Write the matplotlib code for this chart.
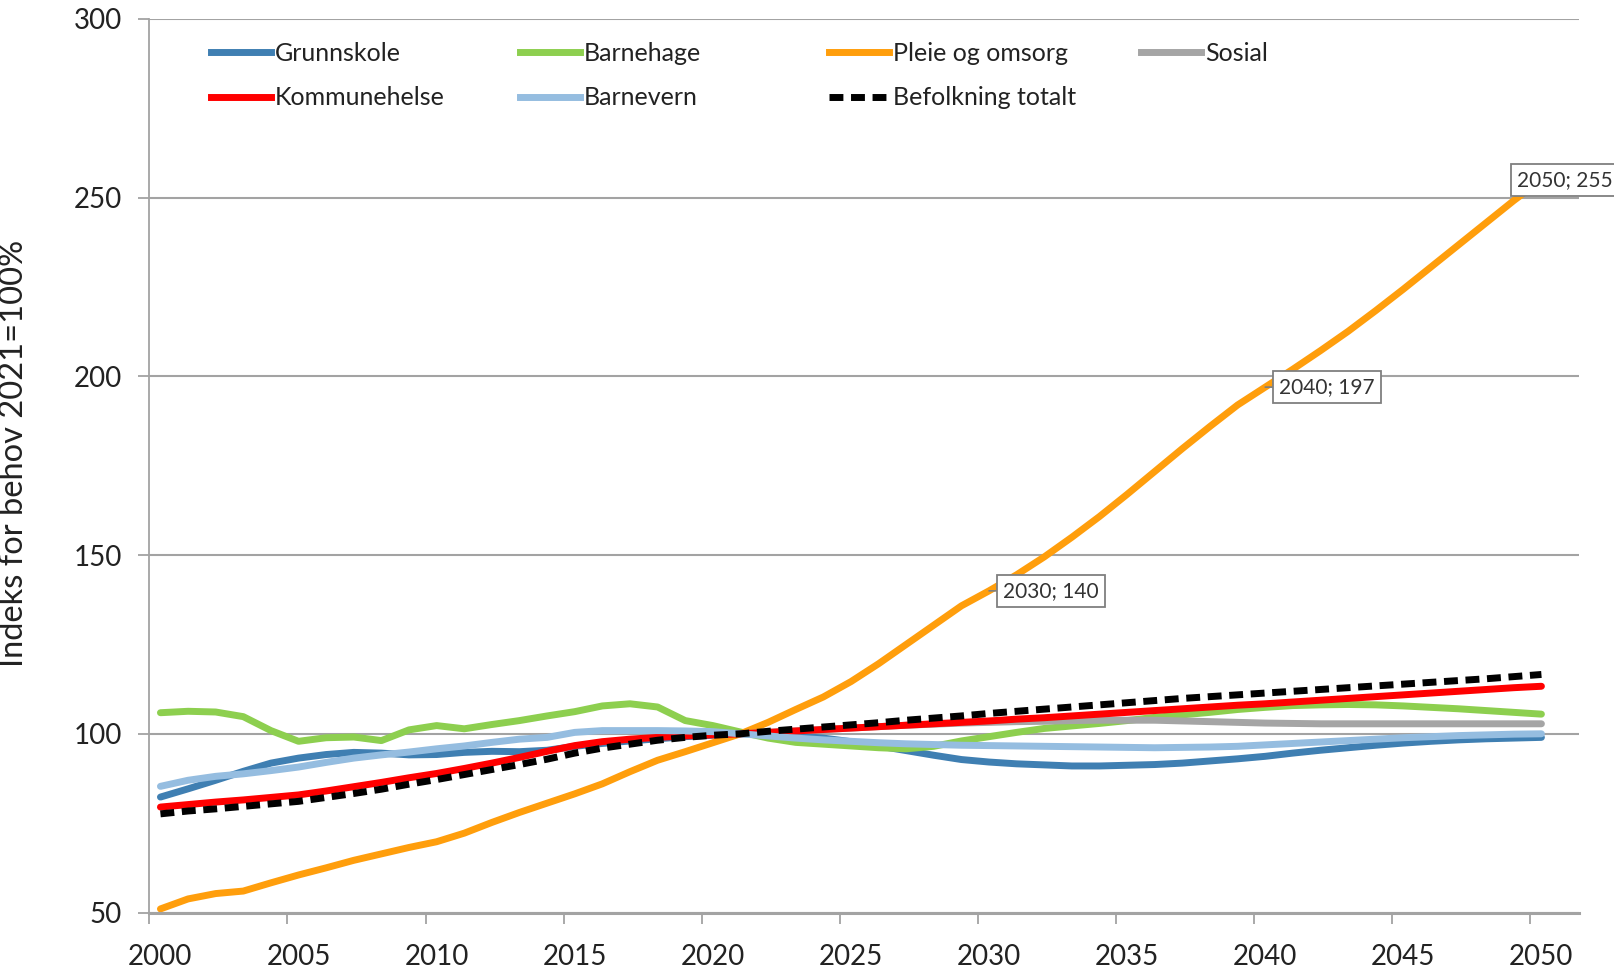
''' Index of demographic needs by sector, 2021 = 100 '''
import numpy as np
import matplotlib
matplotlib.use('Agg')
import matplotlib.pyplot as plt
from matplotlib.lines import Line2D

plt.rcParams['font.family'] = ['Lato', 'DejaVu Sans']

# data (index, 2021 = 100)
years = list(range(2000, 2051))

grunnskole = [82.3, 84.6, 87.0, 89.5, 91.8, 93.2, 94.2, 94.8, 94.6, 94.1,
              94.2, 94.8, 95.1, 95.0, 95.4, 96.5, 97.3, 98.0, 98.6, 99.2,
              99.6, 100.0, 99.8, 99.4, 98.8, 97.8, 96.6, 95.3, 94.0, 92.8,
              92.1, 91.6, 91.3, 91.0, 91.0, 91.2, 91.4, 91.8, 92.4, 93.0,
              93.7, 94.6, 95.4, 96.1, 96.8, 97.4, 97.9, 98.3, 98.6, 98.8, 99.0]

barnehage = [105.9, 106.3, 106.1, 104.8, 100.9, 97.9, 98.9, 99.1, 98.1, 101.1,
             102.3, 101.4, 102.6, 103.7, 105.0, 106.2, 107.8, 108.4, 107.5, 103.7,
             102.3, 100.5, 98.8, 97.6, 97.1, 96.6, 96.1, 95.8, 96.5, 98.0,
             99.2, 100.4, 101.5, 102.2, 102.9, 103.7, 104.6, 105.3, 106.0, 106.8,
             107.4, 107.9, 108.1, 108.2, 108.1, 107.8, 107.4, 107.0, 106.5, 106.0, 105.5]

pleie_omsorg = [51.0, 53.8, 55.3, 56.0, 58.3, 60.5, 62.5, 64.6, 66.4, 68.2,
                69.8, 72.2, 75.2, 78.0, 80.6, 83.2, 86.0, 89.4, 92.6, 95.0,
                97.5, 100.0, 103.2, 106.8, 110.3, 114.6, 119.6, 125.0, 130.4, 135.8,
                140.0, 144.5, 149.5, 155.0, 160.8, 167.0, 173.4, 179.8, 186.0, 192.0,
                197.0, 202.0, 207.2, 212.6, 218.4, 224.4, 230.6, 236.8, 243.0, 249.2, 255.0]

sosial = [np.nan] * 21 + [
          100.0, 100.4, 100.8, 101.2, 101.6, 102.0, 102.4, 102.7, 103.0,
          103.2, 103.4, 103.5, 103.7, 103.8, 103.8, 103.8, 103.6, 103.4, 103.2,
          103.0, 102.9, 102.8, 102.8, 102.8, 102.8, 102.8, 102.8, 102.8, 102.8, 102.8]

kommunehelse = [79.5, 80.2, 80.9, 81.5, 82.2, 82.9, 84.0, 85.2, 86.4, 87.7,
                88.9, 90.3, 91.8, 93.4, 95.1, 96.7, 97.8, 98.5, 99.0, 99.4,
                99.7, 100.0, 100.4, 100.8, 101.2, 101.6, 102.0, 102.4, 102.8, 103.2,
                103.6, 104.1, 104.5, 105.0, 105.5, 106.0, 106.5, 107.0, 107.5, 108.0,
                108.4, 108.9, 109.4, 109.9, 110.4, 110.9, 111.4, 111.9, 112.4, 112.9, 113.3]

barnevern = [85.3, 87.0, 88.1, 88.8, 89.7, 90.7, 92.0, 93.2, 94.1, 94.9,
             95.8, 96.6, 97.6, 98.5, 99.0, 100.4, 100.9, 100.9, 100.9, 100.8,
             100.6, 100.0, 99.4, 98.8, 98.3, 97.9, 97.5, 97.2, 97.0, 96.8,
             96.7, 96.6, 96.5, 96.4, 96.3, 96.2, 96.1, 96.2, 96.3, 96.5,
             96.9, 97.3, 97.7, 98.1, 98.5, 98.9, 99.2, 99.5, 99.7, 99.9, 100.0]

befolkning = [77.6, 78.4, 79.0, 79.7, 80.4, 81.1, 82.2, 83.3, 84.5, 85.9,
              87.2, 88.6, 90.0, 91.4, 92.9, 94.6, 96.0, 97.1, 98.2, 99.0,
              99.6, 100.0, 100.7, 101.3, 101.9, 102.5, 103.1, 103.8, 104.4, 105.0,
              105.7, 106.3, 106.9, 107.5, 108.1, 108.7, 109.3, 109.9, 110.4, 110.9,
              111.4, 111.9, 112.4, 112.9, 113.4, 113.9, 114.4, 114.9, 115.4, 116.0, 116.6]

labels_points = [(2030, 140), (2040, 197), (2050, 255)]

# series in Excel drawing order
series = [
    ('Grunnskole', grunnskole, '#3F7FB2', '-'),
    ('Barnehage', barnehage, '#8DCF4F', '-'),
    ('Pleie og omsorg', pleie_omsorg, '#FF9E0C', '-'),
    ('Sosial', sosial, '#A5A5A5', '-'),
    ('Kommunehelse', kommunehelse, '#FF0000', '-'),
    ('Barnevern', barnevern, '#95BDE0', '-'),
    ('Befolkning totalt', befolkning, '#000000', '--'),
]

fig = plt.figure(figsize=(16.15, 9.69), dpi=100)
ax = fig.add_axes([0.0925, 0.0583, 0.8852, 0.9221])

GRID = '#A3A3A3'
LW = 5.0
DASH = (2.0, 1.1)
lines = {}
for name, vals, color, ls in series:
    if ls == '--':
        ln, = ax.plot(years, vals, color=color, lw=LW, dashes=DASH,
                      dash_capstyle='butt', label=name)
    else:
        ln, = ax.plot(years, vals, color=color, lw=LW, solid_capstyle='round',
                      solid_joinstyle='round', label=name)
    lines[name] = ln

ax.set_xlim(1999.6, 2051.36)
ax.set_ylim(50, 300)

# axes styling
for side in ['top', 'right']:
    ax.spines[side].set_visible(False)
ax.spines['left'].set_color(GRID)
ax.spines['left'].set_linewidth(1.3)
ax.spines['bottom'].set_color(GRID)
ax.spines['bottom'].set_linewidth(2.2)
ax.set_axisbelow(True)

ax.set_yticks(range(50, 301, 50))
ax.yaxis.grid(True, color=GRID, lw=1.5)
ax.tick_params(axis='y', length=8, width=1.3, color=GRID, pad=12,
               labelsize=20, labelcolor='#222222')

ax.set_xticks(range(2000, 2051, 5))
ax.tick_params(axis='x', which='major', length=0, pad=23,
               labelsize=20, labelcolor='#222222')
ax.set_xticks([1999.6 + 5 * k for k in range(11)], minor=True)
ax.tick_params(axis='x', which='minor', length=8, width=1.3, color=GRID)

ax.set_ylabel('Indeks for behov 2021=100%', fontsize=23.5, color='#222222')
ax.yaxis.set_label_coords(-0.084, 0.514)

# data callouts
for (x, y) in labels_points:
    dx = -24 if x == 2050 else 14
    ax.annotate(f'{x}; {y}', xy=(x, y), xytext=(dx, 0), textcoords='offset pixels',
                ha='left', va='center', fontsize=15, color='#333333',
                annotation_clip=False, zorder=10,
                bbox=dict(boxstyle='square,pad=0.3', fc='white', ec='#7F7F7F', lw=1.3),
                arrowprops=dict(arrowstyle='-', color='#7F7F7F', lw=1.2,
                                shrinkA=0, shrinkB=0))

# legend: four equally spaced columns, filled row by row
columns = [['Grunnskole', 'Kommunehelse'], ['Barnehage', 'Barnevern'],
           ['Pleie og omsorg', 'Befolkning totalt'], ['Sosial']]
col_x = [211, 520, 829, 1141]
for cx, names in zip(col_x, columns):
    handles = []
    for n in names:
        src = lines[n]
        h = Line2D([], [], color=src.get_color(), lw=LW)
        if n == 'Befolkning totalt':
            h.set_dashes(DASH)
        handles.append(h)
    leg = fig.legend(handles, names, loc='upper left',
                     bbox_to_anchor=(cx / 1615, 1 - 42 / 969),
                     bbox_transform=fig.transFigure, frameon=False,
                     fontsize=18, handlelength=2.4, handletextpad=0.15,
                     borderpad=0, borderaxespad=0, labelspacing=0.85)
    for t in leg.get_texts():
        t.set_color('#222222')

fig.savefig('out.png', dpi=100)
